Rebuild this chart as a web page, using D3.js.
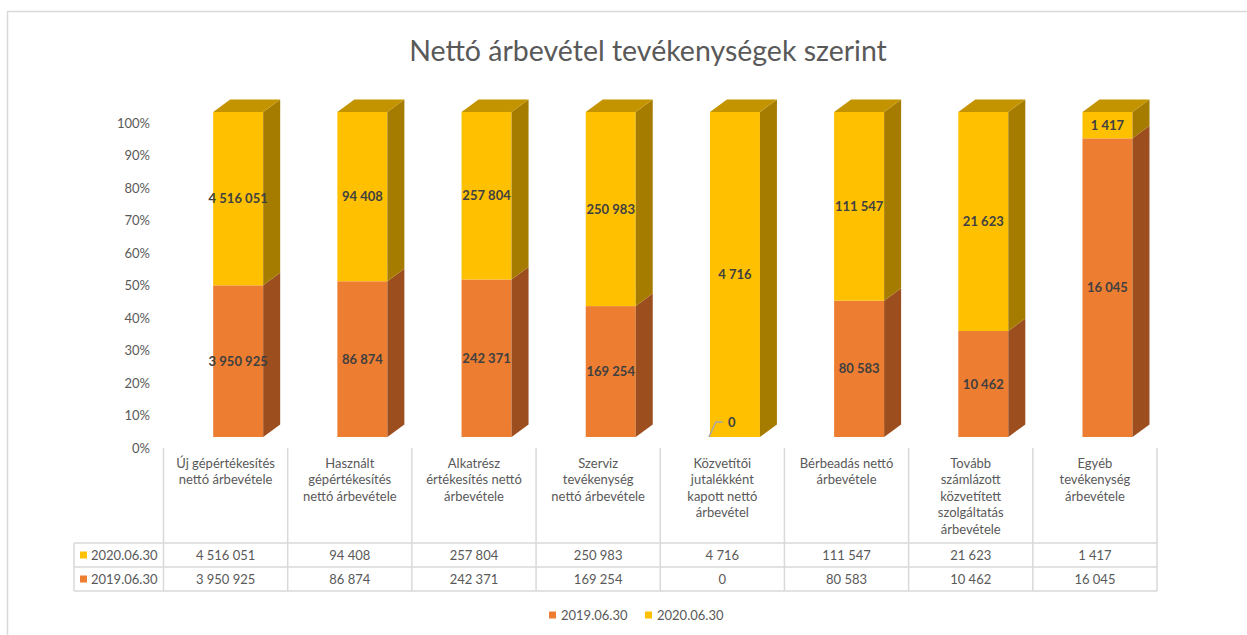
<!DOCTYPE html>
<html>
<head>
<meta charset="utf-8">
<script src="https://cdnjs.cloudflare.com/ajax/libs/d3/7.8.5/d3.min.js"></script>
<style>
  body { margin: 0; background: #fff; }
  text { font-family: Lato, "Noto Sans", sans-serif; }
</style>
</head>
<body>
<div id="chart"></div>
<script>
// data
const categories = [
  ["Új gépértékesítés", "nettó árbevétele"],
  ["Használt", "gépértékesítés", "nettó árbevétele"],
  ["Alkatrész", "értékesítés nettó", "árbevétele"],
  ["Szerviz", "tevékenység", "nettó árbevétele"],
  ["Közvetítői", "jutalékként", "kapott nettó", "árbevétel"],
  ["Bérbeadás nettó", "árbevétele"],
  ["Tovább", "számlázott", "közvetített", "szolgáltatás", "árbevétele"],
  ["Egyéb", "tevékenység", "árbevétele"]
];
const seriesNames = ["2019.06.30", "2020.06.30"];
const values2019 = [3950925, 86874, 242371, 169254, 0, 80583, 10462, 16045];
const values2020 = [4516051, 94408, 257804, 250983, 4716, 111547, 21623, 1417];
const yTicks = [0, 0.1, 0.2, 0.3, 0.4, 0.5, 0.6, 0.7, 0.8, 0.9, 1];

const colors = {
  front: ["#ED7D31", "#FFC000"],
  side:  ["#9C4E1E", "#A67C00"],
  top:   ["#B85F24", "#C49400"]
};

let width = 1247,
    height = 635;

const svg = d3.select("#chart").append("svg")
    .attr("width", width)
    .attr("height", height);

const hu = d3.formatLocale({decimal: ",", thousands: " ", grouping: [3], currency: ["", ""]});
const fmt = hu.format(",d");

// outer frame (only left and top visible)
svg.append("path")
    .attr("d", "M7.5,640 L7.5,11.5 L1260,11.5")
    .attr("fill", "none")
    .attr("stroke", "#d9d9d9")
    .attr("stroke-width", 1.5);

svg.append("text")
    .attr("x", 648)
    .attr("y", 61)
    .attr("text-anchor", "middle")
    .attr("font-size", 28.5)
    .attr("fill", "#595959")
    .text("Nettó árbevétel tevékenységek szerint");

const idx = d3.range(categories.length);
const x = d3.scaleBand()
    .domain(idx)
    .range([163.5, 1157])
    .padding(0);
const bw = x.bandwidth();

const y = d3.scaleLinear()
    .domain([0, 1])
    .range([437, 112]);

const depthX = 17,
    depthY = -12.5,
    barW = 50;

// y axis labels
svg.append("g").selectAll("text")
    .data(yTicks)
    .enter().append("text")
    .attr("x", 150)
    .attr("y", function (d) { return y(d) + 11; })
    .attr("dy", "0.35em")
    .attr("text-anchor", "end")
    .attr("font-size", 13)
    .attr("fill", "#595959")
    .text(d3.format(".0%"));

// stacked shares
const rows = idx.map(function (i) {
  const a = values2019[i], b = values2020[i], tot = a + b;
  return {i: i, vals: [a, b], bounds: [[0, a / tot], [a / tot, 1]]};
});

const bars = svg.append("g");
rows.forEach(function (r) {
  const x0 = x(r.i) + bw * 0.4;
  const g = bars.append("g");
  r.bounds.forEach(function (bd, s) {
    if (bd[1] - bd[0] <= 0) return;
    const yb = y(bd[0]), yt = y(bd[1]);
    g.append("rect")
        .attr("x", x0)
        .attr("y", yt)
        .attr("width", barW)
        .attr("height", yb - yt)
        .attr("fill", colors.front[s]);
    g.append("polygon")
        .attr("points", [
          [x0 + barW, yt], [x0 + barW + depthX, yt + depthY],
          [x0 + barW + depthX, yb + depthY], [x0 + barW, yb]
        ].join(" "))
        .attr("fill", colors.side[s]);
  });
  // top face of the top-most visible segment
  const topS = r.bounds[1][1] - r.bounds[1][0] > 0 ? 1 : 0;
  const yt = y(1);
  g.append("polygon")
      .attr("points", [
        [x0, yt], [x0 + depthX, yt + depthY],
        [x0 + barW + depthX, yt + depthY], [x0 + barW, yt]
      ].join(" "))
      .attr("fill", colors.top[topS]);

  // data labels
  r.bounds.forEach(function (bd, s) {
    const cx = x0 + barW / 2;
    if (r.vals[s] === 0) {
      const yb = y(bd[0]);
      g.append("path")
          .attr("d", "M" + (x0 - 1) + "," + yb + " L" + (x0 + 6) + "," + (yb - 15) + " L" + (x0 + 13) + "," + (yb - 15))
          .attr("fill", "none")
          .attr("stroke", "#a6a6a6")
          .attr("stroke-width", 1.5);
      g.append("text")
          .attr("x", x0 + 18)
          .attr("y", yb - 15)
          .attr("dy", "0.35em")
          .attr("font-size", 13)
          .attr("font-weight", "bold")
          .attr("fill", "#404040")
          .text(fmt(r.vals[s]));
      return;
    }
    g.append("text")
        .attr("x", cx)
        .attr("y", y((bd[0] + bd[1]) / 2))
        .attr("dy", "0.35em")
        .attr("text-anchor", "middle")
        .attr("font-size", 13)
        .attr("font-weight", "bold")
        .attr("fill", "#404040")
        .text(fmt(r.vals[s]));
  });
});

// data table
const tbl = svg.append("g")
    .attr("stroke", "#d9d9d9")
    .attr("stroke-width", 1.5);
const tTop = 448, r1 = 543, r2 = 567, r3 = 591, tLeft = 74;
const colEdges = idx.map(function (i) { return x(i); }).concat([x.range()[1]]);
colEdges.forEach(function (cx) {
  tbl.append("line").attr("x1", cx).attr("x2", cx).attr("y1", tTop).attr("y2", r3);
});
tbl.append("line").attr("x1", tLeft).attr("x2", tLeft).attr("y1", r1).attr("y2", r3);
[r1, r2, r3].forEach(function (yy) {
  tbl.append("line").attr("x1", tLeft).attr("x2", x.range()[1]).attr("y1", yy).attr("y2", yy);
});

const head = svg.append("g");
categories.forEach(function (lines, i) {
  head.append("text")
      .attr("x", x(i) + bw / 2)
      .attr("y", 463)
      .attr("text-anchor", "middle")
      .attr("font-size", 13)
      .attr("fill", "#595959")
      .selectAll("tspan")
      .data(lines)
      .enter().append("tspan")
      .attr("x", x(i) + bw / 2)
      .attr("dy", function (d, k) { return k === 0 ? "0.35em" : 16.5; })
      .text(function (d) { return d; });
});

const tableRows = [
  {name: seriesNames[1], vals: values2020, color: colors.front[1], yc: (r1 + r2) / 2},
  {name: seriesNames[0], vals: values2019, color: colors.front[0], yc: (r2 + r3) / 2}
];
tableRows.forEach(function (tr) {
  svg.append("rect")
      .attr("x", 80).attr("y", tr.yc - 3.5)
      .attr("width", 7).attr("height", 7)
      .attr("fill", tr.color);
  svg.append("text")
      .attr("x", 91).attr("y", tr.yc).attr("dy", "0.35em")
      .attr("font-size", 13).attr("fill", "#595959")
      .text(tr.name);
  svg.append("g").selectAll("text")
      .data(tr.vals)
      .enter().append("text")
      .attr("x", function (d, i) { return x(i) + bw / 2; })
      .attr("y", tr.yc)
      .attr("dy", "0.35em")
      .attr("text-anchor", "middle")
      .attr("font-size", 13)
      .attr("fill", "#595959")
      .text(function (d) { return fmt(d); });
});

// legend
const legend = svg.append("g");
const legendX = [549, 645];
seriesNames.forEach(function (n, s) {
  legend.append("rect")
      .attr("x", legendX[s]).attr("y", 615 - 3.5)
      .attr("width", 7).attr("height", 7)
      .attr("fill", colors.front[s]);
  legend.append("text")
      .attr("x", legendX[s] + 12).attr("y", 615).attr("dy", "0.35em")
      .attr("font-size", 13).attr("fill", "#595959")
      .text(n);
});
</script>
</body>
</html>
